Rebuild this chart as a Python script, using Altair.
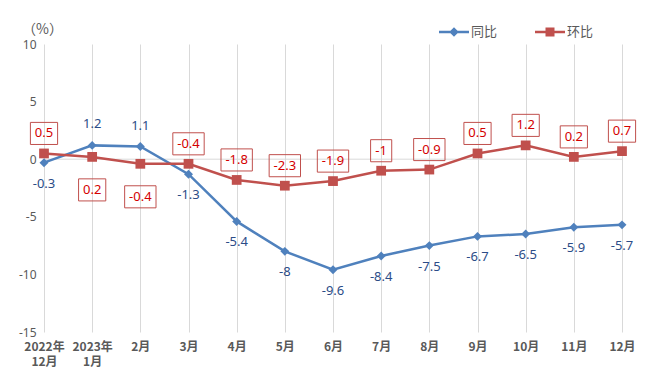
import altair as alt
import pandas as pd

categories = ["2022年 12月", "2023年 1月", "2月", "3月", "4月", "5月", "6月",
              "7月", "8月", "9月", "10月", "11月", "12月"]
series_names = ["同比", "环比"]
yoy = [-0.3, 1.2, 1.1, -1.3, -5.4, -8, -9.6, -8.4, -7.5, -6.7, -6.5, -5.9, -5.7]
mom = [0.5, 0.2, -0.4, -0.4, -1.8, -2.3, -1.9, -1, -0.9, 0.5, 1.2, 0.2, 0.7]
yoy_pos = ["below", "above", "above", "below", "below", "below", "below",
           "below", "below", "below", "below", "below", "below"]
mom_pos = ["above", "below", "below", "above", "above", "above", "above",
           "above", "above", "above", "above", "above", "above"]
y_ticks = [-15, -10, -5, 0, 5, 10]

BLUE = "#4F81BD"
RED = "#C0504D"
BLUE_TXT = "#2B4C87"
RED_TXT = "#D40000"
GRAY = "#595959"
GRID = "#D9D9D9"

rows = []
for i, c in enumerate(categories):
    rows.append({"cat": c, "series": series_names[0], "value": yoy[i], "pos": yoy_pos[i]})
    rows.append({"cat": c, "series": series_names[1], "value": mom[i], "pos": mom_pos[i]})
df = pd.DataFrame(rows)
zero_df = pd.DataFrame({"value": [0]})
legend_df = pd.DataFrame({"cat": [categories[0]] * 2, "series": series_names,
                          "value": [None, None]})

x_enc = alt.X(
    "cat:N", sort=categories,
    scale=alt.Scale(type="point", padding=0),
    axis=alt.Axis(title=None, labelExpr="split(datum.label, ' ')", labelAngle=0,
                  grid=True, gridColor=GRID, gridWidth=1, domain=False, ticks=False,
                  labelPadding=9, labelFontWeight="bold", labelFontSize=12,
                  labelColor=GRAY, labelFont="Noto Sans CJK SC", labelLineHeight=15,
                  labelBaseline="top"),
)
y_enc = alt.Y(
    "value:Q", scale=alt.Scale(domain=[-15, 10], nice=False, zero=False),
    axis=alt.Axis(title="（%）", titleAngle=0, titleX=-2, titleY=-15,
                  titleAlign="center", titleBaseline="middle", titleFontWeight="normal",
                  titleFontSize=14, titleColor=GRAY, titleFont="Noto Sans CJK SC",
                  values=y_ticks, labelExpr="datum.value + ''", grid=False,
                  domain=False, ticks=False, labelPadding=8, labelFontSize=12,
                  labelColor=GRAY, labelFont="Noto Sans"),
)
color_scale = alt.Scale(domain=series_names, range=[BLUE, RED])

# legend symbols: a filled thin bar (the line) plus the marker
bar = "M-1,-0.085 L1,-0.085 L1,0.085 L-1,0.085 Z "
diamond_path = bar + "M0,-0.32 L0.32,0 L0,0.32 L-0.32,0 Z"
square_path = bar + "M-0.3,-0.3 L0.3,-0.3 L0.3,0.3 L-0.3,0.3 Z"

legend = alt.Legend(
    title=None, orient="none", direction="horizontal", legendX=395, legendY=-27,
    symbolSize=900, symbolStrokeWidth=0, labelOffset=2, columnPadding=37, padding=0,
    labelFontSize=13, labelColor=GRAY, labelFont="Noto Sans CJK SC",
)

base = alt.Chart(df)
yoy_data = base.transform_filter(alt.datum.series == series_names[0])
mom_data = base.transform_filter(alt.datum.series == series_names[1])

zero_line = alt.Chart(zero_df).mark_rule(color=GRID, strokeWidth=1).encode(y=y_enc)

line_yoy = yoy_data.mark_line(strokeWidth=2.5, color=BLUE).encode(x=x_enc, y=y_enc)
line_mom = mom_data.mark_line(strokeWidth=2.5, color=RED).encode(x=x_enc, y=y_enc)

pts_yoy = yoy_data.mark_point(filled=True, opacity=1, shape="diamond", size=80,
                              color=BLUE).encode(x=x_enc, y=y_enc)
pts_mom = mom_data.mark_point(filled=True, opacity=1, shape="square", size=95,
                              color=RED).encode(x=x_enc, y=y_enc)

# legend-only layer (values are null, so nothing is drawn in the plot)
legend_layer = alt.Chart(legend_df).mark_point(filled=True, size=900, opacity=1).encode(
    x=x_enc, y=y_enc,
    color=alt.Color("series:N", scale=color_scale, legend=legend),
    shape=alt.Shape("series:N", scale=alt.Scale(domain=series_names, range=[diamond_path, square_path]), legend=legend),
)

lab = base.transform_calculate(lbl="datum.value + ''")

yoy_above = lab.transform_filter(
    (alt.datum.series == series_names[0]) & (alt.datum.pos == "above")
).mark_text(dy=-21, color=BLUE_TXT, fontSize=13, font="Noto Sans").encode(x=x_enc, y=y_enc, text="lbl:N")
yoy_below = lab.transform_filter(
    (alt.datum.series == series_names[0]) & (alt.datum.pos == "below")
).mark_text(dy=21, color=BLUE_TXT, fontSize=13, font="Noto Sans").encode(x=x_enc, y=y_enc, text="lbl:N")

box_expr = ("length(datum.lbl) <= 2 ? 'M-0.66,-0.69 L0.66,-0.69 L0.66,0.69 L-0.66,0.69 Z' : "
            "length(datum.lbl) == 3 ? 'M-0.85,-0.69 L0.85,-0.69 L0.85,0.69 L-0.85,0.69 Z' : "
            "'M-0.98,-0.69 L0.98,-0.69 L0.98,0.69 L-0.98,0.69 Z'")
mom_lab = lab.transform_filter(alt.datum.series == series_names[1]).transform_calculate(box=box_expr)

layers = []
for pos, off in (("above", -20), ("below", 33)):
    sub = mom_lab.transform_filter(alt.datum.pos == pos)
    layers.append(sub.mark_point(filled=False, stroke=RED, strokeWidth=1, size=1024,
                                 opacity=1, yOffset=off).encode(
        x=x_enc, y=y_enc, shape=alt.Shape("box:N", scale=None)))
    layers.append(sub.mark_text(dy=off, color=RED_TXT, fontSize=13, font="Noto Sans").encode(
        x=x_enc, y=y_enc, text="lbl:N"))

chart = alt.layer(zero_line, line_yoy, line_mom, pts_yoy, pts_mom, legend_layer,
                  yoy_above, yoy_below, *layers).properties(
    width=578, height=288,
    autosize=alt.AutoSizeParams(type="none"),
    padding={"left": 36, "top": 36, "right": 21, "bottom": 35},
    background="white",
).configure_view(stroke=None)

chart.save("out.html", embed_options={"renderer": "svg", "actions": False})
